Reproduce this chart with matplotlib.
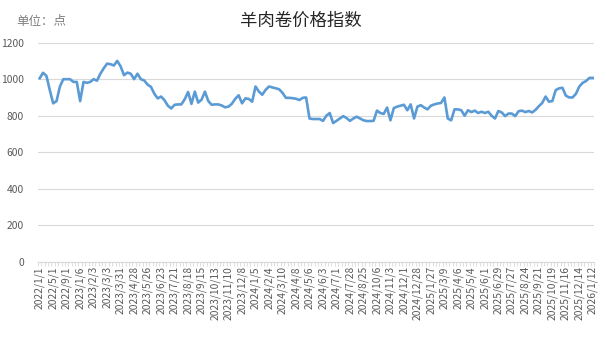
import matplotlib
matplotlib.use("Agg")
import matplotlib.pyplot as plt
import numpy as np

plt.rcParams["font.family"] = ["Noto Sans CJK SC", "DejaVu Sans"]

TITLE = "羊肉卷价格指数"
UNIT = "单位：点"

# one label every 4 weeks
tick_labels = [
    "2022/1/1", "2022/5/1", "2022/9/1", "2023/1/6", "2023/2/3", "2023/3/3",
    "2023/3/31", "2023/4/28", "2023/5/26", "2023/6/23", "2023/7/21", "2023/8/18",
    "2023/9/15", "2023/10/13", "2023/11/10", "2023/12/8", "2024/1/5", "2024/2/4",
    "2024/3/10", "2024/4/8", "2024/5/6", "2024/6/3", "2024/7/1", "2024/7/28",
    "2024/8/25", "2024/10/6", "2024/11/3", "2024/12/1", "2024/12/28", "2025/1/27",
    "2025/3/9", "2025/4/6", "2025/5/4", "2025/6/1", "2025/6/29", "2025/7/27",
    "2025/8/24", "2025/9/21", "2025/10/19", "2025/11/16", "2025/12/14", "2026/1/12",
]

index_values = [
    1005, 1035, 1018, 940, 868, 880, 960, 1000, 1000, 1000, 985, 985, 880, 985,
    980, 985, 1000, 992, 1030, 1060, 1085, 1082, 1075, 1100, 1070, 1022, 1036,
    1030, 1000, 1030, 1000, 993, 970,
    958, 920, 895, 905, 885, 855, 840, 860, 862, 862, 890, 930, 865, 932, 872,
    888, 932, 880, 860, 862, 862, 856, 846, 850, 866, 893, 912, 868, 895, 892,
    877, 960, 932,
    915, 942, 960, 955, 950, 945, 925, 898, 898, 896, 893, 886, 898, 900, 785,
    782, 782, 782, 772, 800, 815, 760, 772, 785, 798, 787, 772, 785, 795, 785,
    775, 771, 771, 772,
    828, 815, 810, 845, 775, 842, 850, 855, 860, 830, 862, 785, 850, 858, 845,
    835, 855, 862, 867, 870, 900, 785, 775, 835, 835, 830, 800, 830, 820, 828,
    815, 822,
    815, 822, 800, 785, 826, 818, 798, 812, 812, 798, 825, 828, 820, 826, 818,
    832, 852, 870, 905, 877, 880, 940, 950, 953, 910, 900, 900, 920, 960, 980,
    990, 1007, 1007,
]

LINE_COLOR = "#5B9BD5"
GRID_COLOR = "#D9D9D9"
TEXT_COLOR = "#595959"

fig = plt.figure(figsize=(6.06, 3.41), dpi=100)
ax = fig.add_axes([0.0627, 0.2317, 0.9183, 0.6433])

x = np.arange(len(index_values))
ax.plot(x, index_values, color=LINE_COLOR, linewidth=1.9, solid_joinstyle="round")

ax.set_xlim(-0.5, len(index_values) - 0.5)
ax.set_ylim(0, 1200)
ax.set_yticks(range(0, 1201, 200))
ax.yaxis.grid(True, color=GRID_COLOR, linewidth=0.8)
ax.set_axisbelow(True)

ax.set_xticks(x[::4])
ax.set_xticklabels(tick_labels, rotation=90, fontsize=7.4, color=TEXT_COLOR)
ax.set_xticks(np.arange(-0.5, len(index_values), 1), minor=True)
ax.tick_params(axis="x", which="major", length=0, pad=3)
ax.tick_params(axis="x", which="minor", length=3, color=GRID_COLOR, width=0.6)
ax.tick_params(axis="y", length=0, labelsize=7.4, labelcolor=TEXT_COLOR, pad=10)

for side in ("top", "right", "left"):
    ax.spines[side].set_visible(False)
ax.spines["bottom"].set_color(GRID_COLOR)
ax.spines["bottom"].set_linewidth(0.8)

fig.text(0.497, 0.938, TITLE, ha="center", va="center", fontsize=12.5, color="#262626")
fig.text(0.027, 0.938, UNIT, ha="left", va="center", fontsize=9, color="#808080")

fig.savefig("out.png", dpi=100)
